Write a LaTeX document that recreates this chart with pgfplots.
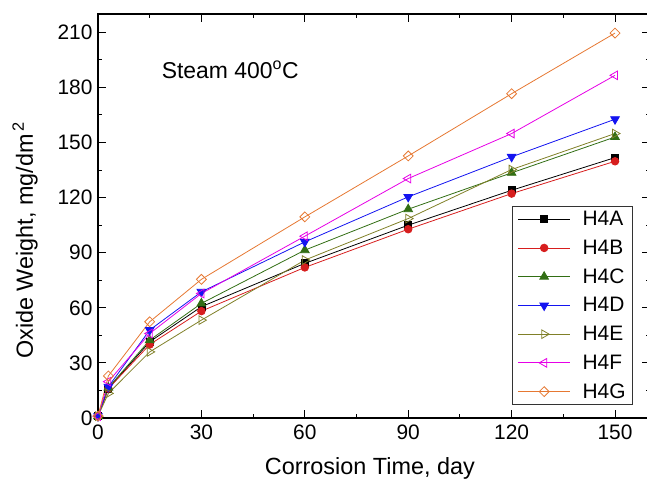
\documentclass[border=0pt]{standalone}
\usepackage{fontspec}
\setmainfont{Liberation Sans}
\usepackage{pgfplots}
\pgfplotsset{compat=1.18}
\definecolor{cA}{RGB}{0,0,0}
\definecolor{cB}{RGB}{215,30,30}
\definecolor{cC}{RGB}{50,110,20}
\definecolor{cD}{RGB}{20,20,240}
\definecolor{cE}{RGB}{128,128,40}
\definecolor{cF}{RGB}{230,0,230}
\definecolor{cG}{RGB}{230,120,50}
\begin{document}
\begin{tikzpicture}
\begin{axis}[
  scale only axis,
  width=551.5bp, height=404bp,
  xmin=0, xmax=160, ymin=0, ymax=220,
  xtick={0,30,...,150}, ytick={0,30,...,210},
  minor x tick num=1, minor y tick num=1,
  tick align=inside,
  major tick length=8bp, minor tick length=4bp,
  axis line style={line width=1.2bp},
  every tick/.style={line width=1bp, black},
  /pgf/number format/assume math mode=true,
  tick label style={font=\fontsize{21}{24}\selectfont},
  xticklabel style={yshift=-3bp},
  yticklabel style={xshift=-2bp},
  xlabel={Corrosion Time, day},
  ylabel={Oxide Weight, mg/dm\textsuperscript{\,2}},
  every axis x label/.style={at={(axis description cs:0.493,-0.141)}, anchor=base, font=\fontsize{23.5}{26}\selectfont},
  every axis y label/.style={at={(axis description cs:-0.118,0.44)}, anchor=base, rotate=90, font=\fontsize{23.5}{26}\selectfont},
  legend style={at={(axis description cs:0.970,0.032)}, anchor=south east,
    font=\fontsize{21}{23}\selectfont, draw=black!80, line width=0.8bp,
    row sep=8.8bp, inner xsep=5bp, inner ysep=3bp,
    /tikz/every odd column/.append style={column sep=10bp}},
  legend cell align=left,
  legend image code/.code={\draw[#1, mark repeat=2, mark phase=2] plot coordinates {(0bp,0bp) (26bp,0bp) (52bp,0bp)};},
  every axis plot/.append style={line width=0.8bp},
  clip=false,
]
\addplot[color=cA, mark=square*, mark size=3.5bp, mark options={solid}] coordinates {(0,1) (3,16) (15,41.5) (30,60.6) (60,84.2) (90,105) (120,124) (150,141.8)};
\addlegendentry{H4A}
\addplot[color=cB, mark=*, mark size=3.8bp] coordinates {(0,1) (3,16) (15,40) (30,58.2) (60,82) (90,102.8) (120,122.2) (150,139.8)};
\addlegendentry{H4B}
\addplot[color=cC, mark=triangle*, mark size=5bp] coordinates {(0,1) (3,16.5) (15,42.4) (30,62.4) (60,91.4) (90,113.7) (120,133.5) (150,153)};
\addlegendentry{H4C}
\addplot[color=cD, mark=triangle*, mark size=5bp, mark options={rotate=180}] coordinates {(0,1) (3,17) (15,47.9) (30,68.7) (60,95.9) (90,120.4) (120,142.2) (150,162.7)};
\addlegendentry{H4D}
\addplot[color=cE, mark=triangle, mark size=5bp, mark options={rotate=-90, fill=white}] coordinates {(0,1) (3,13.4) (15,36) (30,53.3) (60,86) (90,108.6) (120,135.3) (150,154.9)};
\addlegendentry{H4E}
\addplot[color=cF, mark=triangle, mark size=5bp, mark options={rotate=90, fill=white}] coordinates {(0,1) (3,19.8) (15,46) (30,67.8) (60,99) (90,130.4) (120,154.9) (150,186.6)};
\addlegendentry{H4F}
\addplot[color=cG, mark=square, mark size=3.5bp, mark options={rotate=45, fill=white}] coordinates {(0,1) (3,22.9) (15,52.4) (30,75.5) (60,109.5) (90,142.7) (120,176.6) (150,209.6)};
\addlegendentry{H4G}
\node[anchor=base west, font=\fontsize{23}{26}\selectfont] at (axis cs:17.5,185) {Steam 400\textsuperscript{o}C};
\end{axis}
\pgfresetboundingbox
\path[use as bounding box] (-98bp,-61bp) rectangle (549bp,418bp);
\end{tikzpicture}
\end{document}
